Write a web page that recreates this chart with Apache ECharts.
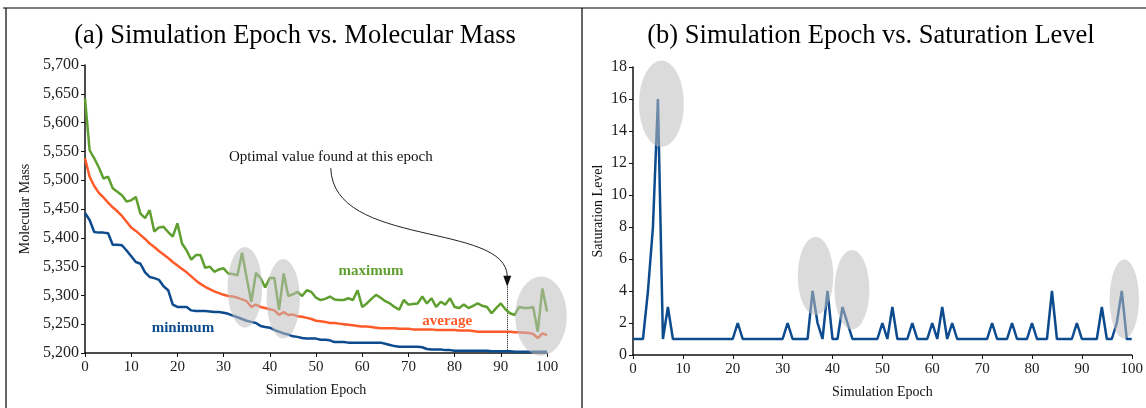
<!DOCTYPE html>
<html><head><meta charset="utf-8">
<script src="https://cdn.jsdelivr.net/npm/echarts@6/dist/echarts.min.js"></script>
<style>html,body{margin:0;padding:0;background:#fff}#c{width:1146px;height:408px}</style>
</head><body><div id="c"></div><script>
// ---- data ----
const maximum = [5642,5552,5538,5522,5503,5506,5486,5480,5474,5463,
 5465,5471,5442,5434,5448,5411,5418,5419,5410,5402,
 5425,5390,5378,5362,5370,5370,5348,5350,5341,5345,
 5347,5338,5337,5335,5374,5330,5289,5339,5330,5314,
 5330,5330,5275,5338,5299,5302,5306,5299,5309,5306,
 5296,5292,5294,5298,5293,5292,5292,5295,5292,5309,
 5280,5286,5294,5301,5296,5290,5286,5280,5275,5292,
 5284,5285,5286,5298,5286,5295,5280,5289,5284,5295,
 5280,5278,5284,5278,5282,5286,5282,5280,5269,5278,
 5286,5276,5269,5266,5280,5278,5278,5280,5237,5312,
 5272];
const average = [5538,5506,5490,5478,5470,5461,5453,5446,5438,5428,
 5418,5412,5405,5398,5390,5384,5377,5371,5365,5358,
 5352,5346,5340,5333,5326,5320,5315,5311,5307,5304,
 5301,5299,5298,5296,5293,5290,5280,5284,5280,5278,
 5276,5274,5266,5271,5266,5267,5264,5263,5261,5259,
 5256,5255,5254,5252,5252,5251,5250,5249,5248,5247,
 5246,5246,5245,5244,5243,5243,5243,5243,5242,5242,
 5242,5241,5241,5241,5241,5241,5240,5240,5240,5240,
 5240,5239,5239,5239,5238,5237,5237,5237,5237,5237,
 5237,5237,5237,5236,5236,5235,5235,5233,5226,5234,
 5231];
const minimum = [5443,5431,5410,5409,5409,5408,5388,5388,5387,5378,
 5368,5358,5355,5340,5332,5330,5327,5316,5309,5284,
 5280,5280,5280,5274,5273,5273,5273,5272,5271,5271,
 5270,5268,5265,5262,5259,5256,5254,5252,5247,5245,
 5244,5240,5237,5234,5232,5229,5228,5226,5225,5225,
 5225,5223,5223,5222,5219,5219,5219,5218,5218,5218,
 5218,5218,5218,5218,5218,5216,5214,5212,5211,5211,
 5211,5211,5211,5210,5207,5206,5206,5206,5205,5205,
 5204,5204,5204,5204,5204,5204,5204,5204,5203,5203,
 5203,5203,5203,5202,5202,5202,5202,5202,5202,5202,
 5202];
const saturation = [1,1,1,4,8,16,1,3,1,1,
 1,1,1,1,1,1,1,1,1,1,
 1,2,1,1,1,1,1,1,1,1,
 1,2,1,1,1,1,4,2,1,4,
 1,1,3,2,1,1,1,1,1,1,
 2,1,3,1,1,1,2,1,1,1,
 2,1,3,1,2,1,1,1,1,1,
 1,1,2,1,1,1,2,1,1,1,
 2,1,1,1,4,1,1,1,1,2,
 1,1,1,1,3,1,1,2,4,1,
 1];
// highlight ellipses: [epoch, value, radius in epochs, radius in value units]
const massHighlights = [[34.6,5314,3.75,70],[42.9,5294,3.6,69],[98.7,5264,5.6,69]];
const satHighlights = [[5.7,15.7,4.5,2.7],[36.6,4.94,3.56,2.45],[43.9,4.08,3.5,2.48],[98.5,3.5,2.94,2.47]];
const optimalEpoch = 91.4;
const massTicks = {min:5200, max:5700, interval:50};
const satTicks = {min:0, max:18, interval:2};
const epochTicks = {min:0, max:100, interval:10};

const FONT = 'Liberation Serif';
const GREEN = '#5f9f2f', ORANGE = '#ff5a2a', BLUE = '#0d4b8f';
const pairs = arr => arr.map((v,i)=>[i,v]);

const chart = echarts.init(document.getElementById('c'), null, {renderer:'canvas'});

function xAxis(gi){
  return {type:'value', gridIndex:gi, ...epochTicks, name:'Simulation Epoch', nameLocation:'middle', nameGap:30,
    nameTextStyle:{fontFamily:FONT, fontSize:14, color:'#111'},
    axisLine:{show:true, onZero:false, lineStyle:{color:'#111', width:1.5}},
    axisTick:{show:true, length:4, lineStyle:{color:'#111'}},
    axisLabel:{fontFamily:FONT, fontSize:15, color:'#222', margin:7},
    splitLine:{show:false}};
}
function yAxis(gi, ticks, name, gap, fmt){
  return {type:'value', gridIndex:gi, ...ticks, name:name, nameLocation:'middle', nameGap:gap,
    nameTextStyle:{fontFamily:FONT, fontSize:14, color:'#111'},
    axisLine:{show:true, lineStyle:{color:'#111', width:1.5}},
    axisTick:{show:true, length:4, lineStyle:{color:'#111'}},
    axisLabel:{fontFamily:FONT, fontSize:16, color:'#222', margin:6, formatter:fmt},
    splitLine:{show:false}};
}
function ellipseSeries(xi, yi, data){
  return {type:'custom', xAxisIndex:xi, yAxisIndex:yi, data:data, z:10, silent:true, clip:false,
    encode:{x:0, y:1},
    renderItem:function(params, api){
      const c = api.coord([api.value(0), api.value(1)]);
      const s = api.size([api.value(2), api.value(3)]);
      return {type:'circle', x:c[0], y:c[1], scaleX:s[0]/s[1], scaleY:1,
        shape:{cx:0, cy:0, r:s[1]}, style:{fill:'rgba(190,190,190,0.55)'}};
    }};
}
const lineBase = {type:'line', showSymbol:false, symbol:'none', smooth:false, z:5, animation:false};

const option = {
  animation:false,
  backgroundColor:'#fff',
  grid:[{left:85, right:599, top:65, bottom:55},{left:633, right:13, top:67, bottom:53}],
  xAxis:[xAxis(0), xAxis(1)],
  yAxis:[yAxis(0, massTicks, 'Molecular Mass', 53, v=>v.toLocaleString('en-US')),
         yAxis(1, satTicks, 'Saturation Level', 28)],
  series:[
    {...lineBase, name:'maximum', xAxisIndex:0, yAxisIndex:0, data:pairs(maximum), lineStyle:{color:GREEN, width:2.5}},
    {...lineBase, name:'average', xAxisIndex:0, yAxisIndex:0, data:pairs(average), lineStyle:{color:ORANGE, width:2.5}},
    {...lineBase, name:'minimum', xAxisIndex:0, yAxisIndex:0, data:pairs(minimum), lineStyle:{color:BLUE, width:2.5},
      markLine:{silent:true, symbol:['none','none'], label:{show:false},
        lineStyle:{color:'#111', type:'dotted', width:1},
        data:[[{coord:[optimalEpoch,5315]},{coord:[optimalEpoch,5200]}]]}},
    {...lineBase, name:'saturation', xAxisIndex:1, yAxisIndex:1, data:pairs(saturation), lineStyle:{color:BLUE, width:2.5}},
    ellipseSeries(0,0,massHighlights),
    ellipseSeries(1,1,satHighlights)
  ]
};
chart.setOption(option);

function px(g, p){ return chart.convertToPixel({gridIndex:g}, p); }
const tip = px(0,[optimalEpoch,5315]);
const noteAt = px(0,[53.2,5540]);
const start = px(0,[53.2,5521]);
const maxAt = px(0,[61.9,5342]);
const avgAt = px(0,[78.4,5256]);
const minAt = px(0,[21.2,5244]);
const endY = tip[1]-10;
const W = chart.getWidth();
const midX = 582;

chart.setOption({graphic:[
  {type:'line', shape:{x1:3, y1:8, x2:W, y2:8}, style:{stroke:'#000', lineWidth:1.2}},
  {type:'line', shape:{x1:6, y1:8, x2:6, y2:408}, style:{stroke:'#000', lineWidth:1.2}},
  {type:'line', shape:{x1:midX, y1:8, x2:midX, y2:408}, style:{stroke:'#000', lineWidth:1.2}},
  {type:'text', x:295, y:36, style:{text:'(a) Simulation Epoch vs. Molecular Mass', font:'26.5px "Liberation Serif"', fill:'#000', align:'center', verticalAlign:'middle'}},
  {type:'text', x:871, y:36, style:{text:'(b) Simulation Epoch vs. Saturation Level', font:'26.5px "Liberation Serif"', fill:'#000', align:'center', verticalAlign:'middle'}},
  {type:'text', x:noteAt[0], y:noteAt[1], style:{text:'Optimal value found at this epoch', font:'15px "Liberation Serif"', fill:'#111', align:'center', verticalAlign:'middle'}},
  {type:'bezierCurve', shape:{x1:start[0], y1:start[1], cpx1:start[0]+2, cpy1:start[1]+80, cpx2:tip[0], cpy2:tip[1]-65, x2:tip[0], y2:endY},
    style:{stroke:'#222', lineWidth:1, fill:null}},
  {type:'polygon', shape:{points:[[tip[0]-4,endY-1],[tip[0]+4,endY-1],[tip[0],tip[1]]]}, style:{fill:'#111'}},
  {type:'text', x:maxAt[0], y:maxAt[1], style:{text:'maximum', font:'bold 15px "Liberation Serif"', fill:GREEN, align:'center', verticalAlign:'middle'}},
  {type:'text', x:avgAt[0], y:avgAt[1], style:{text:'average', font:'bold 15px "Liberation Serif"', fill:ORANGE, align:'center', verticalAlign:'middle'}},
  {type:'text', x:minAt[0], y:minAt[1], style:{text:'minimum', font:'bold 15px "Liberation Serif"', fill:BLUE, align:'center', verticalAlign:'middle'}}
]});
</script></body></html>
